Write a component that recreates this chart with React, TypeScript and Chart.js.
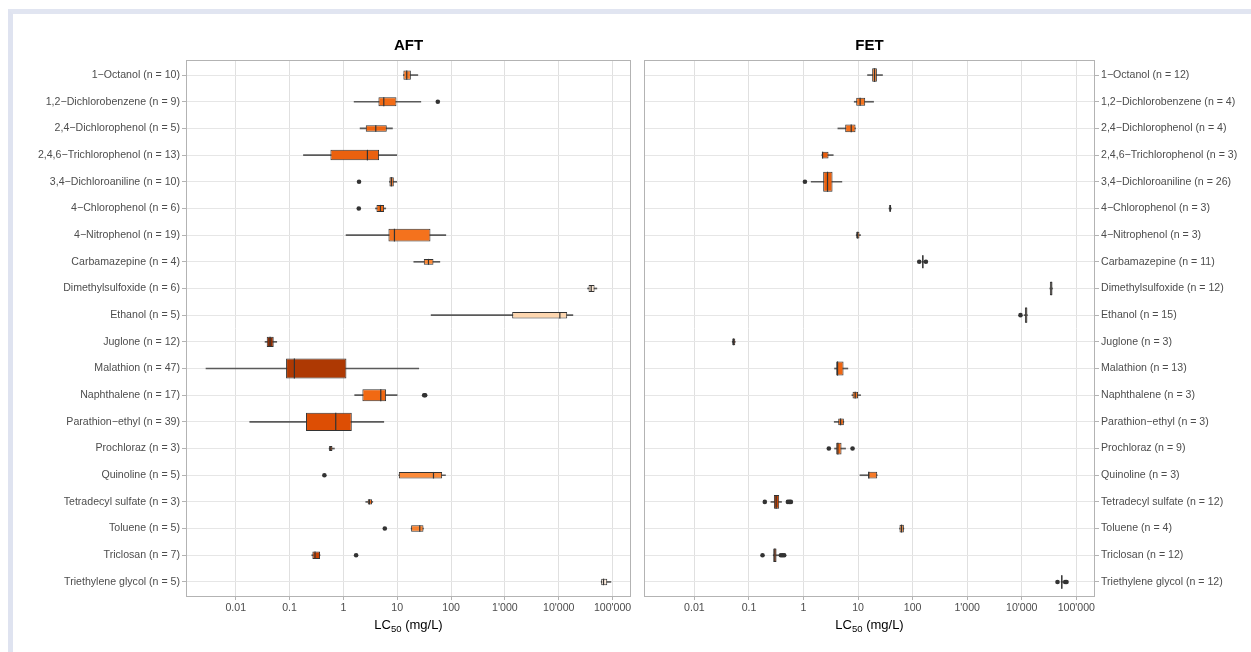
import React, { useEffect, useRef } from "react";
import { Chart, registerables } from "chart.js";

Chart.register(...registerables);

const FONT = "'Liberation Sans', Arial, Helvetica, sans-serif";

const COMPOUNDS = [
  "1−Octanol",
  "1,2−Dichlorobenzene",
  "2,4−Dichlorophenol",
  "2,4,6−Trichlorophenol",
  "3,4−Dichloroaniline",
  "4−Chlorophenol",
  "4−Nitrophenol",
  "Carbamazepine",
  "Dimethylsulfoxide",
  "Ethanol",
  "Juglone",
  "Malathion",
  "Naphthalene",
  "Parathion−ethyl",
  "Prochloraz",
  "Quinoline",
  "Tetradecyl sulfate",
  "Toluene",
  "Triclosan",
  "Triethylene glycol",
];

const X_TICKS = [0.01, 0.1, 1, 10, 100, 1000, 10000, 100000];
const X_TICK_LABELS = ["0.01", "0.1", "1", "10", "100", "1'000", "10'000", "100'000"];
const X_MIN = 0.00119;
const X_MAX = 220000;

// AFT panel
const AFT_N = [10, 9, 5, 13, 10, 6, 19, 4, 6, 5, 12, 47, 17, 39, 3, 5, 3, 5, 7, 5];
const AFT_LOW = [13.0, 1.58, 2.04, 0.181, 7.16, 3.93, 1.12, 20.3, 34300, 42.6, 0.035, 0.0028, 1.62, 0.0182, 0.542, 10.7, 2.6, 18.1, 0.258, 61500];
const AFT_Q1 = [13.0, 4.47, 2.6, 0.573, 7.16, 4.11, 6.86, 31.1, 35800, 1365, 0.0376, 0.086, 2.25, 0.202, 0.542, 10.7, 2.83, 18.1, 0.265, 61500];
const AFT_MEDIAN = [15.0, 5.62, 3.99, 2.79, 7.8, 4.87, 8.87, 38.0, 40100, 10490, 0.0434, 0.1228, 4.94, 0.72, 0.582, 47.1, 3.04, 26.2, 0.297, 68000];
const AFT_Q3 = [17.9, 9.67, 6.39, 4.6, 8.63, 5.7, 41.4, 47.1, 46300, 14360, 0.0507, 1.137, 6.21, 1.43, 0.625, 68.2, 3.41, 30.7, 0.368, 79600];
const AFT_HIGH = [24.1, 27.4, 8.14, 9.8, 9.8, 6.12, 79.8, 61.8, 51100, 18300, 0.0577, 25.1, 9.95, 5.62, 0.68, 78.7, 3.51, 30.7, 0.368, 93100];
const AFT_OUTLIERS = [[], [56.7], [], [], [1.95], [1.93], [], [], [], [], [], [], [31.6, 33.0], [], [], [0.443], [], [5.87], [1.72], []];

// FET panel
const FET_N = [12, 4, 4, 3, 26, 3, 3, 11, 12, 15, 3, 13, 3, 3, 9, 3, 12, 4, 12, 12];
const FET_LOW = [14.9, 8.49, 4.26, 2.17, 1.38, 36.8, 9.23, 149, 32700, 11000, 0.0493, 3.7, 7.7, 3.65, 3.7, 10.8, 0.252, 57.4, 0.278, 52700];
const FET_Q1 = [18.1, 9.23, 5.8, 2.17, 2.29, 37.2, 9.23, 149, 32700, 11400, 0.0493, 3.97, 7.91, 4.32, 3.97, 15.3, 0.286, 57.4, 0.278, 52700];
const FET_MEDIAN = [20.0, 10.9, 7.48, 2.23, 2.75, 38.7, 9.77, 154, 34600, 12000, 0.0521, 4.2, 8.85, 4.77, 4.26, 15.7, 0.315, 62.5, 0.298, 54200];
const FET_Q3 = [22.1, 13.5, 8.97, 2.87, 3.4, 40.4, 10.6, 158, 36600, 12700, 0.056, 5.41, 10.0, 5.48, 4.97, 22.4, 0.358, 69.0, 0.32, 55800];
const FET_HIGH = [28.0, 19.2, 8.97, 3.5, 5.04, 40.8, 11.1, 158, 36600, 12700, 0.056, 6.49, 11.1, 5.48, 5.89, 22.4, 0.395, 69.0, 0.358, 55800];
const FET_OUTLIERS = [[], [], [], [], [1.06], [], [], [132, 175], [], [9480], [], [], [], [], [2.91, 7.91], [], [0.195, 0.516, 0.553, 0.586], [], [0.177, 0.384, 0.412, 0.442], [45200, 62400, 66100]];

const ORANGES = ["#8c2d04", "#d94801", "#f16913", "#fd8d3c", "#fdae6b", "#fdd0a2", "#feedde"];

const ALL_MEDIANS = [...AFT_MEDIAN, ...FET_MEDIAN];
const LOG_LO = Math.log10(Math.min(...ALL_MEDIANS));
const LOG_HI = Math.log10(Math.max(...ALL_MEDIANS));

function hexToRgb(h: string) {
  return [parseInt(h.slice(1, 3), 16), parseInt(h.slice(3, 5), 16), parseInt(h.slice(5, 7), 16)];
}

function fillFor(median: number) {
  const t = Math.min(1, Math.max(0, (Math.log10(median) - LOG_LO) / (LOG_HI - LOG_LO)));
  const pos = t * (ORANGES.length - 1);
  const i = Math.min(ORANGES.length - 2, Math.floor(pos));
  const f = pos - i;
  const a = hexToRgb(ORANGES[i]);
  const b = hexToRgb(ORANGES[i + 1]);
  const c = a.map((v, k) => Math.round(v + (b[k] - v) * f));
  return `rgb(${c[0]},${c[1]},${c[2]})`;
}

const boxExtras = {
  id: "boxExtras",
  afterDatasetsDraw(chart: any, _args: any, opts: any) {
    const { ctx, chartArea } = chart;
    const xs = chart.scales.x;
    const medians: number[] = opts.medians || [];
    ctx.save();
    ctx.strokeStyle = "#333333";
    ctx.lineWidth = 1.2;
    for (let i = 0; i < medians.length; i++) {
      const meta = chart.getDatasetMeta(opts.firstBox + i);
      const el: any = meta && meta.data[0];
      if (!el) continue;
      const x = xs.getPixelForValue(medians[i]);
      ctx.beginPath();
      ctx.moveTo(x, el.y - el.height / 2);
      ctx.lineTo(x, el.y + el.height / 2);
      ctx.stroke();
    }
    ctx.strokeStyle = "#b3b3b3";
    ctx.lineWidth = 1;
    ctx.strokeRect(
      chartArea.left + 0.5,
      chartArea.top + 0.5,
      chartArea.right - chartArea.left - 1,
      chartArea.bottom - chartArea.top - 1
    );
    ctx.restore();
  },
};

type Panel = {
  n: number[];
  low: number[];
  q1: number[];
  med: number[];
  q3: number[];
  high: number[];
  out: number[][];
  side: "left" | "right";
};

function buildConfig(p: Panel): any {
  const nMax = Math.max(...p.n);
  const labels = COMPOUNDS.map((c, i) => `${c} (n = ${p.n[i]})`);
  const datasets: any[] = [];
  datasets.push({
    type: "scatter",
    data: p.out.flatMap((arr, i) => arr.map((v) => ({ x: v, y: i }))),
    pointRadius: 2.3,
    pointBackgroundColor: "#333333",
    pointBorderWidth: 0,
    pointStyle: "circle",
    order: 0,
  });
  const firstBox = datasets.length;
  COMPOUNDS.forEach((_, i) => {
    datasets.push({
      type: "bar",
      data: [{ x: [p.q1[i], p.q3[i]], y: i }],
      backgroundColor: fillFor(p.med[i]),
      borderColor: "#333333",
      borderWidth: 1,
      borderSkipped: false,
      grouped: false,
      categoryPercentage: 1,
      barPercentage: 0.75 * Math.sqrt(p.n[i] / nMax),
      order: 1,
    });
  });
  datasets.push({
    type: "bar",
    data: p.low.map((l, i) => ({ x: [l, p.high[i]], y: i })),
    backgroundColor: "#5a5a5a",
    borderWidth: 0,
    barThickness: 1,
    grouped: false,
    order: 2,
  });

  const isLeft = p.side === "left";
  return {
    type: "bar",
    data: { datasets },
    options: {
      responsive: false,
      animation: false,
      events: [],
      indexAxis: "y",
      layout: {
        padding: isLeft ? { left: 0, right: 9, top: 60, bottom: 0 } : { left: 4, right: 0, top: 60, bottom: 0 },
      },
      plugins: {
        legend: { display: false },
        tooltip: { enabled: false },
        title: { display: false },
        boxExtras: { medians: p.med, firstBox },
      },
      scales: {
        x: {
          type: "logarithmic",
          min: X_MIN,
          max: X_MAX,
          afterBuildTicks: (s: any) => {
            s.ticks = X_TICKS.map((v) => ({ value: v }));
          },
          afterFit: (s: any) => {
            s.height = 20;
          },
          ticks: {
            autoSkip: false,
            maxRotation: 0,
            color: "#4d4d4d",
            font: { family: FONT, size: 10.6 },
            padding: 2,
            callback: (_v: any, i: number) => X_TICK_LABELS[i],
          },
          grid: { color: "#e0e0e0", tickColor: "#b3b3b3", tickLength: 3, offset: false },
          border: { display: false },
        },
        y: {
          type: "linear",
          position: p.side,
          min: -0.565,
          max: COMPOUNDS.length - 1 + 0.565,
          reverse: true,
          offset: false,
          afterBuildTicks: (s: any) => {
            s.ticks = COMPOUNDS.map((_, i) => ({ value: i }));
          },
          afterFit: (s: any) => {
            s.width = isLeft ? 186 : 156;
          },
          ticks: {
            autoSkip: false,
            color: "#4d4d4d",
            font: { family: FONT, size: 10.6 },
            padding: 2,
            callback: (v: any) => labels[v],
          },
          grid: { color: "#e6e6e6", tickColor: "#b3b3b3", tickLength: 4, offset: false },
          border: { display: false },
        },
      },
    },
    plugins: [boxExtras],
  };
}

function PanelChart({ panel, left, width }: { panel: Panel; left: number; width: number }) {
  const ref = useRef<HTMLCanvasElement | null>(null);
  useEffect(() => {
    if (!ref.current) return;
    const chart = new Chart(ref.current, buildConfig(panel));
    return () => chart.destroy();
  }, []);
  return (
    <canvas
      ref={ref}
      width={width}
      height={617}
      style={{ position: "absolute", left, top: 0, width, height: 617 }}
    />
  );
}

const AFT_PANEL: Panel = {
  n: AFT_N, low: AFT_LOW, q1: AFT_Q1, med: AFT_MEDIAN, q3: AFT_Q3, high: AFT_HIGH, out: AFT_OUTLIERS, side: "left",
};
const FET_PANEL: Panel = {
  n: FET_N, low: FET_LOW, q1: FET_Q1, med: FET_MEDIAN, q3: FET_Q3, high: FET_HIGH, out: FET_OUTLIERS, side: "right",
};

function AxisTitle({ left, width }: { left: number; width: number }) {
  return (
    <div
      style={{
        position: "absolute",
        left,
        width,
        top: 618,
        textAlign: "center",
        fontFamily: FONT,
        fontSize: 13,
        lineHeight: "13px",
        color: "#000",
        whiteSpace: "nowrap",
        willChange: "transform",
      }}
    >
      LC<span style={{ fontSize: "9.5px", verticalAlign: "-3px", lineHeight: 0 }}>50</span> (mg/L)
    </div>
  );
}

function PanelTitle({ left, width, text }: { left: number; width: number; text: string }) {
  return (
    <div
      style={{
        position: "absolute",
        left,
        width,
        top: 36,
        textAlign: "center",
        fontFamily: FONT,
        fontSize: 15,
        fontWeight: "bold",
        lineHeight: "18px",
        color: "#000",
        willChange: "transform",
      }}
    >
      {text}
    </div>
  );
}

export default function App() {
  return (
    <div style={{ position: "absolute", left: 0, top: 0, width: 1251, height: 652, overflow: "hidden" }}>
      <div
        style={{
          position: "absolute",
          left: 8,
          top: 9,
          width: 1243,
          height: 643,
          boxSizing: "border-box",
          borderTop: "5px solid #e1e5f1",
          borderLeft: "5px solid #dfe3f0",
        }}
      />
      <PanelTitle left={186} width={445} text="AFT" />
      <PanelTitle left={644} width={451} text="FET" />
      <PanelChart panel={AFT_PANEL} left={0} width={640} />
      <PanelChart panel={FET_PANEL} left={640} width={611} />
      <AxisTitle left={186} width={445} />
      <AxisTitle left={644} width={451} />
    </div>
  );
}
